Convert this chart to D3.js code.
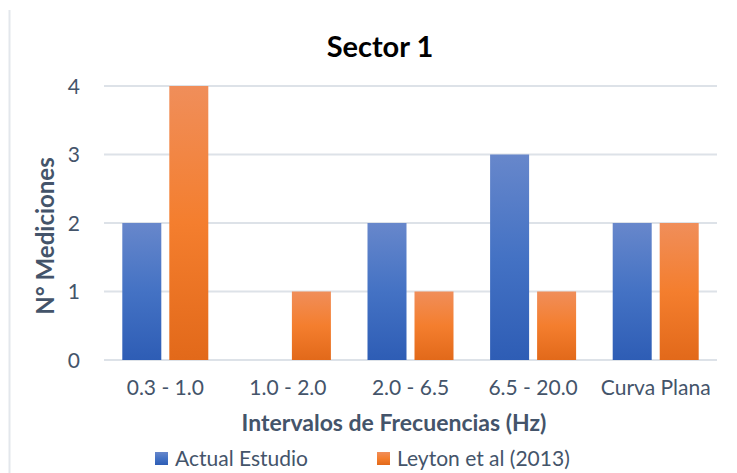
<!DOCTYPE html>
<html>
<head>
<meta charset="utf-8">
<script src="https://cdn.jsdelivr.net/npm/d3@7"></script>
<style>
  html, body { margin: 0; padding: 0; background: #fff; }
  svg text { font-family: Lato, "Open Sans", "Liberation Sans", sans-serif; fill: #44546A; }
</style>
</head>
<body>
<svg id="chart" width="737" height="473"></svg>
<script>
// Chart data
const categories = ["0.3 - 1.0", "1.0 - 2.0", "2.0 - 6.5", "6.5 - 20.0", "Curva Plana"];
const seriesNames = ["Actual Estudio", "Leyton et al (2013)"];
const actualEstudio = [2, 0, 2, 3, 2];
const leyton = [4, 1, 1, 1, 2];
const yTicks = [0, 1, 2, 3, 4];

const svg = d3.select("#chart");
const W = 737, H = 473;
const margin = { left: 104, right: 20, top: 86, bottom: 113 };

// Vertical gradients for the two series
const defs = svg.append("defs");
const grads = [
  { id: "gBlue", stops: ["#6787CB", "#4472C4", "#2E5DB5"] },
  { id: "gOrange", stops: ["#F08E5A", "#F47E2E", "#E2691A"] }
];
grads.forEach(g => {
  const lg = defs.append("linearGradient").attr("id", g.id)
    .attr("x1", 0).attr("y1", 0).attr("x2", 0).attr("y2", 1);
  g.stops.forEach((c, i) => lg.append("stop").attr("offset", i / (g.stops.length - 1)).attr("stop-color", c));
});

// Chart frame edge on the left
svg.append("line").attr("x1", 9.5).attr("x2", 9.5).attr("y1", 10).attr("y2", H)
  .attr("stroke", "#E3E7EC").attr("stroke-width", 2);

const x0 = d3.scaleBand().domain(categories).range([margin.left, W - margin.right]).paddingInner(0).paddingOuter(0);
const y = d3.scaleLinear().domain([0, 4]).range([H - margin.bottom, margin.top]);

// Horizontal gridlines
svg.append("g").selectAll("line").data(yTicks).join("line")
  .attr("x1", margin.left).attr("x2", W - margin.right)
  .attr("y1", d => y(d)).attr("y2", d => y(d))
  .attr("stroke", "#DDE2E8").attr("stroke-width", 2);

// Y axis tick labels
const yAxis = d3.axisLeft(y).tickValues(yTicks).tickSize(0).tickPadding(24).tickFormat(d3.format("d"));
const gy = svg.append("g").attr("transform", `translate(${margin.left},0)`).call(yAxis);
gy.select(".domain").remove();
gy.selectAll("text").style("font-size", "21px").attr("fill", "#44546A").attr("dy", "0.35em");

// X axis labels
const xAxis = d3.axisBottom(x0).tickSize(0).tickPadding(24);
const gx = svg.append("g").attr("transform", `translate(0,${y(0)})`).call(xAxis);
gx.select(".domain").remove();
gx.selectAll("text").style("font-size", "21px").attr("fill", "#44546A").attr("dy", "0.5em");

// Bars
const barW = 39, gap = 8;
const series = [actualEstudio, leyton];
series.forEach((vals, si) => {
  svg.append("g").selectAll("rect").data(vals).join("rect")
    .attr("x", (d, i) => x0(categories[i]) + x0.bandwidth() / 2 - (barW + gap / 2) + si * (barW + gap))
    .attr("width", barW)
    .attr("y", d => y(d))
    .attr("height", d => y(0) - y(d))
    .attr("fill", `url(#${grads[si].id})`);
});

// Title
svg.append("text").attr("x", 380).attr("y", 57).attr("text-anchor", "middle")
  .style("font-size", "29px").style("font-weight", "bold").style("fill", "#000")
  .text("Sector 1");

// Axis titles
svg.append("text").attr("transform", "translate(54,236) rotate(-90)").attr("text-anchor", "middle")
  .style("font-size", "24px").style("font-weight", "bold").text("N° Mediciones");
svg.append("text").attr("x", 394).attr("y", 431).attr("text-anchor", "middle")
  .style("font-size", "23px").style("font-weight", "bold").text("Intervalos de Frecuencias (Hz)");

// Legend
const legendX = [155, 377];
seriesNames.forEach((name, i) => {
  svg.append("rect").attr("x", legendX[i]).attr("y", 452).attr("width", 13).attr("height", 13)
    .attr("fill", `url(#${grads[i].id})`);
  svg.append("text").attr("x", legendX[i] + 20).attr("y", 466)
    .style("font-size", "21px").text(name);
});
</script>
</body>
</html>
